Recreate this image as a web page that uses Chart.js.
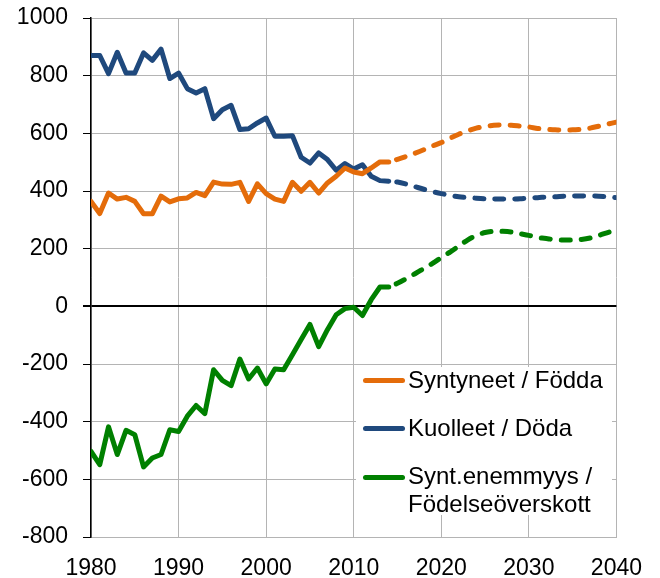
<!DOCTYPE html>
<html>
<head>
<meta charset="utf-8">
<script src="https://cdn.jsdelivr.net/npm/chart.js@4"></script>
<style>
  body { margin: 0; background: #fff; }
  #wrap { position: relative; width: 660px; height: 578px; }
  #legend div { position: absolute; }
  .key { height: 5px; width: 42px; border-radius: 3px; }
  .txt { font-family: 'Liberation Sans', Arial, sans-serif; font-size: 24px; color: #000; white-space: nowrap; }
</style>
</head>
<body>
<div id="wrap">
  <canvas id="chart" width="660" height="578"></canvas>
  <div id="legend"></div>
</div>
<script>
// observed years 1980-2014, projection 2014-2040
var firstYear = 1980;
var projStart = 2014;

var births = [364,322,393,372,378,364,321,321,382,362,373,376,395,384,431,424,423,430,364,425,
              391,372,364,430,399,430,393,428,451,480,466,460,480,501,501];
var deaths = [870,870,807,881,809,809,879,853,892,790,809,755,740,755,651,682,697,613,616,636,
              653,590,590,592,517,497,532,509,472,495,476,491,451,436,434];
var surplus = [-503,-549,-418,-514,-430,-445,-557,-526,-514,-428,-434,-381,-344,-372,-220,-257,-275,-183,-252,-214,
               -269,-217,-220,-168,-115,-63,-140,-81,-29,-8,-3,-32,23,67,67];

var birthsProj = [501,510,520,531,543,556,568,583,597,608,618,624,628,629,628,625,622,617,614,612,
                  612,612,614,618,625,632,639];
var deathsProj = [434,431,424,415,406,398,391,385,380,377,375,373,372,372,372,373,376,377,379,380,
                  382,383,383,383,382,380,377];
var surplusProj = [67,80,96,113,131,149,169,188,209,230,246,256,260,260,258,252,246,239,235,231,
                   230,230,232,237,246,256,265];

var labels = [['Syntyneet / Födda'], ['Kuolleet / Döda'], ['Synt.enemmyys /', 'Födelseöverskott']];
var colors = ['#E46C0A', '#1F497D', '#008000'];

function pts(arr, start) {
    return arr.map(function(v, i){ return {x: start + i, y: v}; });
}

var font = {family: "'Liberation Sans', Arial, sans-serif", size: 23};
var gridGrey = '#b4b4b4';

var observed = [births, deaths, surplus];
var projected = [birthsProj, deathsProj, surplusProj];
var datasets = [];
for (let i = 0; i < 3; i++) {
    datasets.push({
        label: labels[i].join(' '),
        data: pts(observed[i], firstYear),
        borderColor: colors[i],
        borderWidth: 5,
        pointRadius: 0,
        borderJoinStyle: 'round',
        borderCapStyle: 'round',
        fill: false
    });
}
for (let i = 0; i < 3; i++) {
    datasets.push({
        label: labels[i].join(' ') + ' (ennuste)',
        data: pts(projected[i], projStart),
        borderColor: colors[i],
        borderWidth: 5,
        borderDash: [9, 11],
        borderDashOffset: -8,
        borderCapStyle: 'round',
        pointRadius: 0,
        tension: 0.3,
        fill: false
    });
}

var ctx = document.getElementById('chart');
var chart = new Chart(ctx, {
    type: 'line',
    data: { datasets: datasets },
    options: {
        responsive: false,
        animation: false,
        layout: { padding: { left: 0, right: 42, top: 18, bottom: 0 } },
        plugins: { legend: { display: false }, tooltip: { enabled: false } },
        scales: {
            x: {
                type: 'linear',
                min: 1980,
                max: 2040,
                afterFit: function(s){ s.height = 41; },
                ticks: { stepSize: 10, font: font, color: '#000', padding: 18,
                         maxRotation: 0, callback: function(v){ return String(v); } },
                grid: { color: gridGrey, lineWidth: 1, drawTicks: false },
                border: { color: gridGrey, width: 1 }
            },
            y: {
                min: -800,
                max: 1000,
                afterFit: function(s){ s.width = 91; s.paddingTop = 14; s.paddingBottom = 14; },
                ticks: { stepSize: 200, font: font, color: '#000', padding: 15,
                         callback: function(v){ return String(v); } },
                grid: {
                    color: function(c){ return c.tick && c.tick.value === 0 ? '#000' : gridGrey; },
                    lineWidth: function(c){ return c.tick && c.tick.value === 0 ? 2 : 1; },
                    tickColor: '#000',
                    tickLength: 8
                },
                border: { color: '#000', width: 1.5 }
            }
        }
    }
});

// legend box inside the plot
var leg = document.getElementById('legend');
var html = '<div style="left:356px;top:367px;width:256px;height:148px;background:#fff"></div>';
var rowY = [380, 428, 477];
for (let i = 0; i < 3; i++) {
    html += '<div class="key" style="left:363px;top:' + (rowY[i] - 2.5) + 'px;background:' + colors[i] + '"></div>';
    let lh = labels[i].length > 1 ? 28 : 23;
    let ty = labels[i].length > 1 ? rowY[i] + 7 - 22.3 : rowY[i] + 8 - 19.8;
    html += '<div class="txt" style="left:408px;top:' + ty + 'px;line-height:' + lh + 'px">' + labels[i].join('<br>') + '</div>';
}
leg.innerHTML = html;
</script>
</body>
</html>
